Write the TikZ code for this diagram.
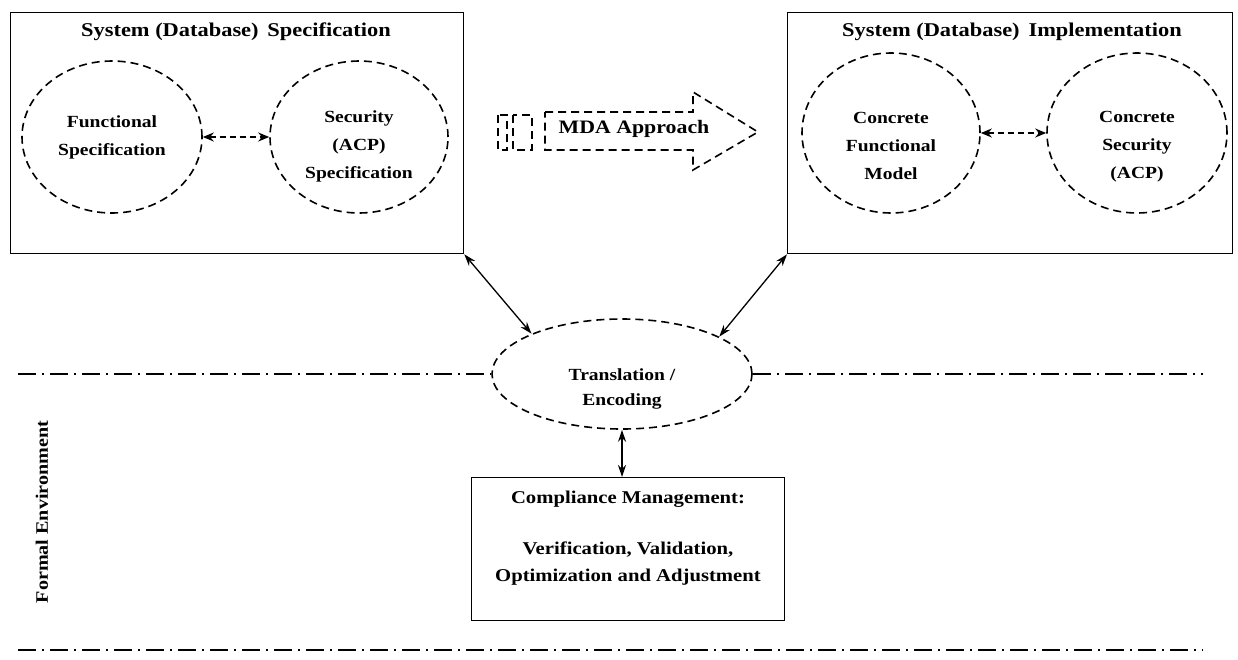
\documentclass[tikz,border=0pt]{standalone}
\usepackage{fontspec}
\setmainfont{Liberation Serif}[FakeStretch=1.15]
\usetikzlibrary{arrows.meta, shapes.geometric, positioning}

\begin{document}
\begin{tikzpicture}[x=1pt, y=-1pt,
  sysbox/.style={draw, line width=1.3pt, anchor=north west, minimum height=241pt},
  boxtitle/.style={font=\bfseries\fontsize{19.5}{29}\selectfont},
  part/.style={ellipse, draw, line width=1.6pt, dash pattern=on 8pt off 5pt, inner sep=0pt,
              align=center, font=\bfseries\fontsize{17}{28}\selectfont},
  comp/.style={draw, line width=1.3pt, align=center, inner xsep=0pt, inner ysep=7pt,
              font=\bfseries\fontsize{18}{27}\selectfont},
  link/.style={{Stealth[length=12pt,width=8pt]}-{Stealth[length=12pt,width=8pt]}, line width=1.3pt},
  dlink/.style={{Stealth[length=11pt,width=9pt]}-{Stealth[length=11pt,width=9pt]},
              line width=1.6pt, dash pattern=on 6pt off 4pt},
  envline/.style={line width=1.4pt, dash pattern=on 18pt off 6pt on 2pt off 6pt},
]
\useasboundingbox (0,0) rectangle (1238,659);

% Specification side
\node[sysbox, minimum width=453pt] (spec) at (10,12) {};
\node[boxtitle] (spectitle) at (236,32) {System (Database)\, Specification};
\node[part, minimum width=180pt, minimum height=152pt] (fspec) at (112,137) {Functional\\Specification};
\node[part, minimum width=178pt, minimum height=152pt] (sspec) at (359,137)
  {\rule{0pt}{30pt}Security\\(ACP)\\Specification};

% Implementation side
\node[sysbox, minimum width=445pt] (impl) at (787,12) {};
\node[boxtitle] (impltitle) at (1012,32) {System (Database)\, Implementation};
\node[part, minimum width=178pt, minimum height=160pt] (cfunc) at (891,133)
  {\rule{0pt}{38pt}Concrete\\Functional\\Model};
\node[part, minimum width=180pt, minimum height=160pt] (csec) at (1137,133)
  {\rule{0pt}{38pt}Concrete\\Security\\(ACP)};

% MDA arrow
\draw[line width=1.6pt, dash pattern=on 8pt off 5pt]
  (545,112) -- (693,112) -- (693,92) -- (758,132) -- (693,170) -- (693,150) -- (545,150) -- cycle;
\draw[line width=1.6pt, dash pattern=on 8pt off 5pt] (498,115) rectangle (507,150);
\draw[line width=1.6pt, dash pattern=on 8pt off 5pt] (513,115) rectangle (532,150);
\node[font=\bfseries\fontsize{19}{24}\selectfont] (mda) at (634,129) {MDA Approach};

% Translation
\node[part, minimum width=260pt, minimum height=110pt,
  label={[yshift=-15pt, align=center, font=\bfseries\fontsize{17}{25}\selectfont]center:Translation /\\Encoding}]
  (trans) at (622,374) {};

% Compliance
\node[comp, minimum width=313pt, anchor=north, text depth=32pt] (cm) at (628,477)
  {\rule{0pt}{19pt}Compliance Management:\\[24pt]Verification, Validation,\\Optimization and Adjustment};

% Environment border
\coordinate (topL) at (18,374);
\coordinate (topR) at (1203,374);
\coordinate (botL) at (18,650);
\coordinate (botR) at (1203,650);
\draw[envline] (topL) -- (trans.west);
\draw[envline] (trans.east) -- (topR);
\draw[envline] (botL) -- (botR);
\node[rotate=90, font=\bfseries\fontsize{17.5}{20}\selectfont] (formal) at (42,512) {Formal Environment};

% Arrows
\draw[dlink] (fspec.east) -- (sspec.west);
\draw[dlink] (cfunc.east) -- (csec.west);
\draw[link] (spec.south east) -- (trans.156);
\draw[link] (impl.south west) -- (trans.21);
\draw[link] (trans.south) -- (trans.south |- cm.north);

\end{tikzpicture}
\end{document}
